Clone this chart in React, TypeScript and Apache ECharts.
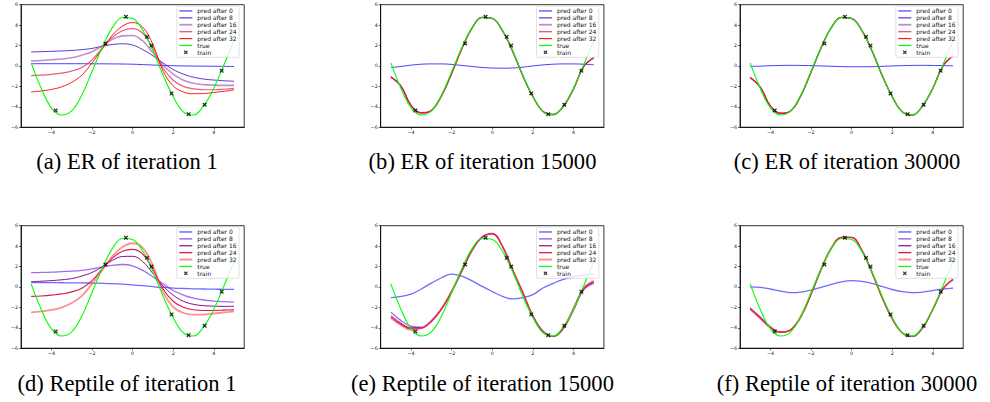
import React, { useEffect, useRef } from "react";
import * as echarts from "echarts";

// ---------- data ----------
const X_GRID = [-5, -4.5, -4, -3.5, -3, -2.5, -2, -1.5, -1, -0.5, 0, 0.5, 1, 1.5, 2, 2.5, 3, 3.5, 4, 4.5, 5];
const TRUE_Y = [0.3, -2.2, -4.1, -4.8, -4.4, -2.85, -0.55, 1.8, 3.75, 4.75, 4.65, 3.5, 1.5, -0.9, -3.0, -4.5, -4.8, -3.9, -2.2, 0.1, 2.5];
const TRAIN_X = [-3.79, -1.34, -0.33, 0.71, 0.93, 1.92, 2.76, 3.55, 4.39];
const TRAIN_Y = [-4.36, 2.2, 4.82, 2.85, 2.0, -2.69, -4.72, -3.8, -0.46];

const SERIES_NAMES = ["pred after 0", "pred after 8", "pred after 16", "pred after 24", "pred after 32"];
const TRUE_NAME = "true";
const TRAIN_NAME = "train";
const X_TICKS = [-4, -2, 0, 2, 4];
const Y_TICKS = [-6, -4, -2, 0, 2, 4, 6];
const CAPTIONS = [
  "(a) ER of iteration 1",
  "(b) ER of iteration 15000",
  "(c) ER of iteration 30000",
  "(d) Reptile of iteration 1",
  "(e) Reptile of iteration 15000",
  "(f) Reptile of iteration 30000",
];

// (a) ER iteration 1
const A_P0 = [0.22, 0.22, 0.22, 0.22, 0.22, 0.22, 0.21, 0.21, 0.2, 0.19, 0.17, 0.13, 0.09, 0.05, 0.02, 0.0, -0.01, -0.02, -0.03, -0.04, -0.05];
const A_P8 = [1.37, 1.4, 1.43, 1.47, 1.52, 1.6, 1.72, 1.93, 2.1, 2.17, 2.05, 1.6, 1.0, 0.3, -0.35, -0.8, -1.1, -1.28, -1.38, -1.45, -1.5];
const A_P16 = [0.5, 0.53, 0.6, 0.68, 0.8, 1.05, 1.4, 1.95, 2.6, 2.95, 2.98, 2.45, 1.3, 0.1, -0.8, -1.4, -1.7, -1.83, -1.88, -1.9, -1.9];
const A_P24 = [-0.95, -0.9, -0.82, -0.7, -0.5, -0.15, 0.6, 1.75, 2.8, 3.45, 3.65, 3.2, 1.75, -0.2, -1.4, -2.0, -2.25, -2.33, -2.33, -2.28, -2.2];
const A_P32 = [-2.55, -2.45, -2.3, -2.05, -1.6, -0.9, 0.3, 1.65, 3.0, 3.9, 4.25, 3.8, 2.1, -0.5, -1.95, -2.55, -2.72, -2.7, -2.6, -2.48, -2.35];

// (b) ER iteration 15000
const B_P0 = [-0.15, -0.05, 0.08, 0.17, 0.2, 0.2, 0.15, 0.05, -0.05, -0.15, -0.2, -0.22, -0.2, -0.12, 0.0, 0.1, 0.17, 0.2, 0.2, 0.17, 0.12];
const B_P8 = [-1.05, -1.95, -3.85, -4.58, -4.38, -2.92, -0.72, 1.72, 3.72, 4.76, 4.66, 3.47, 1.47, -0.93, -2.98, -4.45, -4.76, -3.97, -2.27, -0.08, 0.78];
const B_P16 = [-1.08, -1.98, -3.88, -4.6, -4.36, -2.9, -0.7, 1.7, 3.7, 4.75, 4.65, 3.46, 1.46, -0.94, -3.0, -4.46, -4.76, -3.96, -2.26, -0.06, 0.8];
const B_P24 = [-1.09, -1.99, -3.89, -4.6, -4.35, -2.9, -0.7, 1.7, 3.7, 4.75, 4.65, 3.45, 1.45, -0.95, -3.0, -4.45, -4.75, -3.95, -2.25, -0.05, 0.8];
const B_P32 = [-1.1, -2.0, -3.9, -4.6, -4.35, -2.9, -0.7, 1.7, 3.7, 4.75, 4.65, 3.45, 1.45, -0.95, -3.0, -4.45, -4.75, -3.95, -2.25, -0.05, 0.82];

// (c) ER iteration 30000
const C_P0 = [-0.05, -0.02, 0.02, 0.05, 0.06, 0.05, 0.03, 0.0, -0.03, -0.06, -0.08, -0.08, -0.07, -0.04, 0.0, 0.03, 0.05, 0.06, 0.05, 0.03, 0.01];
const C_P8 = [-1.12, -2.06, -3.92, -4.63, -4.4, -2.9, -0.62, 1.78, 3.74, 4.75, 4.65, 3.5, 1.5, -0.9, -3.0, -4.5, -4.8, -3.9, -2.2, -0.02, 0.97];
const C_P16 = [-1.13, -2.08, -3.93, -4.64, -4.4, -2.9, -0.61, 1.79, 3.75, 4.75, 4.65, 3.5, 1.5, -0.9, -3.0, -4.5, -4.8, -3.9, -2.2, -0.01, 0.98];
const C_P24 = [-1.14, -2.09, -3.94, -4.65, -4.4, -2.9, -0.6, 1.8, 3.75, 4.75, 4.65, 3.5, 1.5, -0.9, -3.0, -4.5, -4.8, -3.9, -2.2, 0.0, 0.99];
const C_P32 = [-1.15, -2.1, -3.95, -4.65, -4.4, -2.9, -0.6, 1.8, 3.75, 4.75, 4.65, 3.5, 1.5, -0.9, -3.0, -4.5, -4.8, -3.9, -2.2, 0.0, 1.0];

// (d) Reptile iteration 1
const D_P0 = [0.42, 0.42, 0.42, 0.41, 0.4, 0.39, 0.38, 0.36, 0.33, 0.28, 0.2, 0.12, 0.03, -0.05, -0.11, -0.15, -0.18, -0.2, -0.22, -0.23, -0.24];
const D_P8 = [1.4, 1.42, 1.45, 1.5, 1.55, 1.63, 1.76, 1.96, 2.12, 2.2, 2.07, 1.62, 1.0, 0.3, -0.35, -0.8, -1.1, -1.28, -1.38, -1.44, -1.48];
const D_P16 = [0.52, 0.56, 0.62, 0.7, 0.82, 1.07, 1.42, 1.96, 2.6, 2.98, 3.0, 2.48, 1.32, 0.1, -0.8, -1.4, -1.7, -1.83, -1.88, -1.9, -1.9];
const D_P24 = [-0.92, -0.88, -0.8, -0.68, -0.48, -0.12, 0.62, 1.76, 2.82, 3.5, 3.68, 3.22, 1.76, -0.2, -1.4, -2.0, -2.23, -2.3, -2.3, -2.27, -2.25];
const D_P32 = [-2.5, -2.4, -2.25, -2.02, -1.58, -0.88, 0.3, 1.65, 3.0, 3.92, 4.28, 3.82, 2.1, -0.5, -1.95, -2.55, -2.72, -2.7, -2.6, -2.5, -2.4];

// (e) Reptile iteration 15000
const E_P0 = [-1.05, -0.93, -0.7, -0.2, 0.38, 0.9, 1.25, 1.05, 0.6, 0.05, -0.45, -0.92, -1.17, -1.05, -0.75, -0.1, 0.35, 0.75, 1.0, 1.15, 1.25];
const E_P8 = [-2.45, -3.3, -3.85, -3.95, -3.4, -2.2, -0.5, 1.55, 3.55, 4.85, 5.2, 3.95, 1.65, -0.5, -2.8, -4.3, -4.85, -4.1, -2.3, -0.3, 0.35];
const E_P16 = [-2.8, -3.55, -4.0, -4.0, -3.35, -2.15, -0.45, 1.58, 3.58, 4.88, 5.22, 3.97, 1.67, -0.55, -2.85, -4.35, -4.85, -4.05, -2.2, -0.2, 0.45];
const E_P24 = [-2.95, -3.65, -4.1, -4.05, -3.32, -2.12, -0.42, 1.6, 3.6, 4.9, 5.24, 3.98, 1.68, -0.55, -2.88, -4.38, -4.85, -4.02, -2.15, -0.15, 0.52];
const E_P32 = [-3.05, -3.75, -4.2, -4.05, -3.3, -2.1, -0.4, 1.6, 3.6, 4.9, 5.25, 4.0, 1.7, -0.55, -2.9, -4.4, -4.85, -4.0, -2.1, -0.1, 0.6];

// (f) Reptile iteration 30000
const F_P0 = [0.0, -0.05, -0.2, -0.4, -0.55, -0.5, -0.3, -0.05, 0.25, 0.5, 0.62, 0.55, 0.35, 0.05, -0.25, -0.45, -0.55, -0.5, -0.35, -0.2, -0.12];
const F_P8 = [-2.05, -2.95, -3.9, -4.4, -4.2, -2.9, -0.72, 1.73, 3.78, 4.85, 4.85, 3.6, 1.45, -1.0, -3.1, -4.5, -4.85, -4.0, -2.22, -0.22, 0.7];
const F_P16 = [-2.1, -3.0, -3.95, -4.42, -4.2, -2.9, -0.71, 1.74, 3.79, 4.85, 4.85, 3.6, 1.45, -1.0, -3.1, -4.5, -4.85, -4.0, -2.21, -0.21, 0.72];
const F_P24 = [-2.15, -3.05, -3.98, -4.44, -4.2, -2.9, -0.7, 1.75, 3.8, 4.85, 4.85, 3.6, 1.45, -1.0, -3.1, -4.5, -4.85, -4.0, -2.2, -0.2, 0.74];
const F_P32 = [-2.2, -3.1, -4.0, -4.45, -4.2, -2.9, -0.7, 1.75, 3.8, 4.85, 4.85, 3.6, 1.45, -1.0, -3.1, -4.5, -4.85, -4.0, -2.2, -0.2, 0.75];

const PANEL_PREDS = [
  [A_P0, A_P8, A_P16, A_P24, A_P32],
  [B_P0, B_P8, B_P16, B_P24, B_P32],
  [C_P0, C_P8, C_P16, C_P24, C_P32],
  [D_P0, D_P8, D_P16, D_P24, D_P32],
  [E_P0, E_P8, E_P16, E_P24, E_P32],
  [F_P0, F_P8, F_P16, F_P24, F_P32],
];

// ---------- styles / layout ----------
const ER_COLORS = ["rgba(0,0,255,0.75)", "rgba(60,20,210,0.85)", "rgba(150,70,170,0.6)", "rgba(225,50,100,0.8)", "rgba(255,0,0,0.9)"];
const ER_WIDTHS = [1, 1, 1.6, 1.2, 1];
const REP_COLORS = ["rgba(30,30,255,0.65)", "rgba(120,50,230,0.7)", "rgba(128,0,128,0.95)", "rgba(215,0,60,0.9)", "rgba(255,70,70,0.6)"];
const REP_WIDTHS = [1.3, 1.3, 1, 1.1, 1.8];

const COL_LEFT = [21, 380.7, 740];
const COL_WIDTH = 223.2;
const ROW_TOP = [4.7, 225.7];
const ROW_HEIGHT = 122.5;
const CAPTION_X = [127, 482.5, 847];
const CAPTION_Y = [161, 383];

const X_SYMBOL = "path://M0,2L2,0L5,3L8,0L10,2L7,5L10,8L8,10L5,7L2,10L0,8L3,5Z";
const lineIcon = (w: number) => `path://M0,0H20V${(w * 20) / 13}H0Z`;
const fmt = (v: number) => String(v).replace("-", "\u2212");

function buildOption() {
  const grid: any[] = [];
  const xAxis: any[] = [];
  const yAxis: any[] = [];
  const series: any[] = [];
  const legend: any[] = [];
  const graphic: any[] = [];

  for (let p = 0; p < 6; p++) {
    const row = Math.floor(p / 3);
    const col = p % 3;
    const left = COL_LEFT[col];
    const top = ROW_TOP[row];
    const colors = row === 0 ? ER_COLORS : REP_COLORS;
    const widths = row === 0 ? ER_WIDTHS : REP_WIDTHS;

    grid.push({
      left, top, width: COL_WIDTH, height: ROW_HEIGHT,
      show: true, borderColor: "#000", borderWidth: 0.8, backgroundColor: "transparent",
      containLabel: false,
    });
    xAxis.push({
      type: "value", gridIndex: p, min: -5.5, max: 5.5,
      splitLine: { show: false },
      axisLine: { show: true, onZero: false, lineStyle: { color: "#000", width: 0.8 } },
      axisTick: { show: true, length: 2, customValues: X_TICKS, lineStyle: { color: "#000", width: 0.6 } },
      axisLabel: { customValues: X_TICKS, fontSize: 4.8, color: "#222", margin: 2.5, fontFamily: "DejaVu Sans", formatter: fmt },
    });
    yAxis.push({
      type: "value", gridIndex: p, min: -6, max: 6, interval: 2,
      splitLine: { show: false },
      axisLine: { show: true, onZero: false, lineStyle: { color: "#000", width: 0.8 } },
      axisTick: { show: true, length: 2, customValues: Y_TICKS, lineStyle: { color: "#000", width: 0.6 } },
      axisLabel: { customValues: Y_TICKS, fontSize: 4.8, color: "#222", margin: 3, fontFamily: "DejaVu Sans", formatter: fmt },
    });

    const preds = PANEL_PREDS[p];
    preds.forEach((arr, k) => {
      series.push({
        type: "line", name: SERIES_NAMES[k], xAxisIndex: p, yAxisIndex: p,
        data: X_GRID.map((x, i) => [x, arr[i]]),
        smooth: 0.4, symbol: "none", showSymbol: false,
        lineStyle: { color: colors[k], width: widths[k] },
        itemStyle: { color: colors[k] },
        z: 2 + k * 0.01,
      });
    });
    series.push({
      type: "line", name: TRUE_NAME, xAxisIndex: p, yAxisIndex: p,
      data: X_GRID.map((x, i) => [x, TRUE_Y[i]]),
      smooth: 0.4, symbol: "none", showSymbol: false,
      lineStyle: { color: "#00ff00", width: 1.1 },
      itemStyle: { color: "#00ff00" },
      z: 3,
    });
    series.push({
      type: "scatter", name: TRAIN_NAME, xAxisIndex: p, yAxisIndex: p,
      data: TRAIN_X.map((x, i) => [x, TRAIN_Y[i]]),
      symbol: X_SYMBOL, symbolSize: 4.5,
      itemStyle: { color: "#000" },
      z: 4,
    });

    const legendData: any[] = SERIES_NAMES.map((n, k) => ({
      name: n,
      icon: lineIcon(widths[k] + 0.2),
      itemStyle: { color: colors[k] },
    }));
    legendData.push({ name: TRUE_NAME, icon: lineIcon(1.2), itemStyle: { color: "#00ff00" } });
    legendData.push({ name: TRAIN_NAME, icon: X_SYMBOL, itemStyle: { color: "#000" } });

    legend.push({
      orient: "vertical",
      left: left + 155.8,
      top: top + 1.3,
      data: legendData,
      itemWidth: 13, itemHeight: 4, itemGap: 0,
      padding: [1.5, 2.5, 1.5, 2.5],
      backgroundColor: "rgba(255,255,255,0.8)",
      borderColor: "#cccccc", borderWidth: 0.6, borderRadius: 1.5,
      textStyle: { fontSize: 6, fontFamily: "DejaVu Sans", color: "#111", lineHeight: 6.9, padding: 0 },
      selectedMode: false,
      z: 10,
    });

    graphic.push({
      type: "text",
      x: CAPTION_X[col], y: CAPTION_Y[row],
      scaleX: 0.98,
      style: {
        text: CAPTIONS[p], fontSize: 23, fontFamily: "'Liberation Serif', 'Times New Roman', serif",
        fill: "#000", align: "center", verticalAlign: "middle",
      },
    });
  }

  return { animation: false, backgroundColor: "#fff", grid, xAxis, yAxis, series, legend, graphic };
}

export default function App() {
  const ref = useRef<HTMLDivElement>(null);
  useEffect(() => {
    const chart = echarts.init(ref.current!, null, { renderer: "svg" });
    chart.setOption(buildOption());
    return () => chart.dispose();
  }, []);
  return <div ref={ref} style={{ position: "absolute", left: 0, top: 0, width: 990, height: 402 }} />;
}
